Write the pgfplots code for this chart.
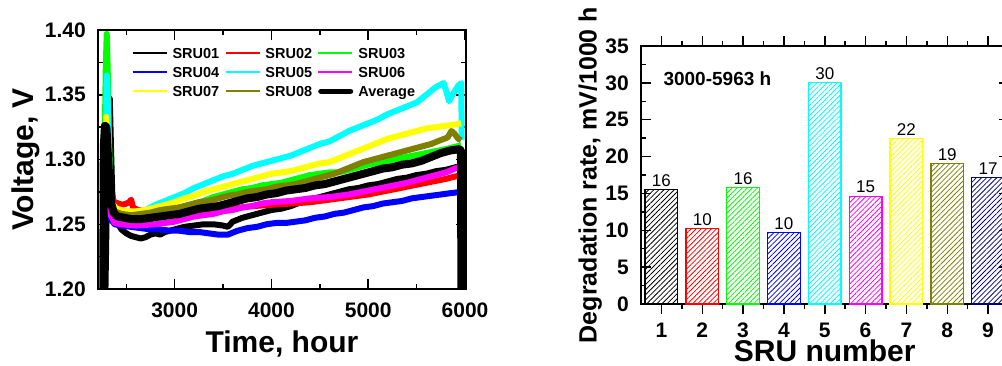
\documentclass[border=0pt]{standalone}
\usepackage{pgfplots}
\pgfplotsset{compat=1.18}
\usepackage{fontspec}
\setmainfont{Liberation Sans}
\usetikzlibrary{patterns.meta}
\definecolor{cgreen}{RGB}{0,255,0}
\definecolor{colive}{RGB}{128,128,0}
\definecolor{cnavy}{RGB}{0,0,128}
\definecolor{ccyan}{RGB}{0,255,255}
\definecolor{cmag}{RGB}{255,0,255}
\definecolor{cyel}{RGB}{255,255,0}
\newcommand\tkfont{\fontsize{21}{21}\selectfont\bfseries}
\newcommand\lbfont{\fontsize{30}{30}\selectfont\bfseries}
\pgfplotsset{
  myaxis/.style={
    scale only axis,
    axis line style={line width=1.8pt},
    tick align=inside,
    major tick length=10pt,
    minor tick length=5pt,
    every tick/.style={black, line width=1.5pt},
    every minor tick/.style={black, line width=1.5pt},
    tick label style={font=\tkfont},
    yticklabel style={inner sep=0pt, xshift=-12pt, anchor=east},
    xticklabel style={inner sep=0pt, yshift=-14pt, anchor=north},
  },
  sru/.style={line width=6pt, line join=round},
}
\begin{document}
\begin{tikzpicture}
\useasboundingbox (0,0) rectangle (1002pt,365pt);
\clip (0,0) rectangle (1002pt,365pt);
% ---------------- left panel ----------------
\begin{axis}[myaxis,
  at={(98pt,76pt)}, anchor=south west,
  width=368pt, height=259pt,
  xmin=2208, xmax=6010, ymin=1.20, ymax=1.40,
  xtick={3000,4000,5000,6000}, xticklabels={3000,4000,5000,6000},
  minor xtick={2500,3500,4500,5500},
  ytick={1.20,1.25,1.30,1.35,1.40}, yticklabels={1.20,1.25,1.30,1.35,1.40},
  minor ytick={1.225,1.275,1.325,1.375},
  xlabel={Time, hour}, ylabel={Voltage, V},
  xlabel style={font=\lbfont, at={(axis description cs:0.5,-0.246)}, anchor=base},
  ylabel style={font=\lbfont, at={(axis description cs:-0.176,0.5)}, anchor=base},
  legend columns=3, legend cell align=left,
  legend style={at={(0.0916,0.9305)}, anchor=north west, draw=none, fill=none,
    inner sep=0pt, outer sep=0pt, font=\fontsize{14.5}{14.5}\selectfont\bfseries,
    nodes={inner sep=0pt, text height=10.5pt, text depth=0pt},
    row sep=8.5pt, column sep=0pt,
    /tikz/every odd column/.append style={column sep=5pt},
    /tikz/every even column/.append style={column sep=5.4pt}},
  legend image code/.code={\draw[#1, line width=1.8pt, line cap=butt] (0pt,0pt) -- (34pt,0pt);},
]
\addplot[sru, black] coordinates {(2285,1.20) (2300,1.27) (2315,1.32) (2330,1.347) (2342,1.31) (2355,1.275) (2375,1.258) (2400,1.252) (2450,1.246) (2500,1.243) (2550,1.241) (2600,1.240) (2650,1.239) (2700,1.240) (2750,1.242) (2800,1.243) (2850,1.242) (2900,1.244) (2950,1.245) (3000,1.246) (3100,1.248) (3200,1.249) (3300,1.250) (3400,1.250) (3500,1.249) (3550,1.248) (3600,1.252) (3700,1.255) (3800,1.257) (3900,1.259) (4000,1.261) (4100,1.262) (4200,1.264) (4300,1.267) (4400,1.269) (4500,1.271) (4600,1.273) (4700,1.275) (4800,1.277) (4900,1.278) (5000,1.280) (5100,1.281) (5200,1.283) (5300,1.285) (5400,1.286) (5500,1.288) (5600,1.289) (5700,1.291) (5800,1.292) (5900,1.294) (5960,1.295)};
\addlegendentry{SRU01}
\addplot[sru, red] coordinates {(2290,1.29) (2320,1.283) (2345,1.272) (2380,1.267) (2420,1.266) (2460,1.265) (2500,1.266) (2530,1.267) (2550,1.269) (2570,1.263) (2620,1.261) (2700,1.260) (2800,1.259) (2900,1.258) (3000,1.258) (3200,1.259) (3400,1.260) (3600,1.262) (3800,1.264) (4000,1.265) (4200,1.266) (4400,1.267) (4600,1.269) (4800,1.271) (5000,1.273) (5200,1.276) (5400,1.279) (5600,1.282) (5800,1.285) (5960,1.288)};
\addlegendentry{SRU02}
\addplot[sru, cgreen] coordinates {(2260,1.22) (2275,1.30) (2288,1.37) (2298,1.397) (2308,1.37) (2320,1.32) (2335,1.28) (2355,1.258) (2390,1.252) (2450,1.250) (2550,1.249) (2650,1.251) (2750,1.254) (2850,1.257) (2950,1.260) (3000,1.262) (3100,1.264) (3200,1.266) (3300,1.268) (3400,1.271) (3500,1.273) (3600,1.275) (3700,1.277) (3800,1.278) (3900,1.280) (4000,1.281) (4100,1.282) (4200,1.284) (4300,1.286) (4400,1.288) (4500,1.289) (4600,1.290) (4700,1.290) (4800,1.292) (4900,1.294) (5000,1.296) (5200,1.299) (5400,1.302) (5600,1.305) (5800,1.308) (5960,1.311)};
\addlegendentry{SRU03}
\addplot[sru, blue] coordinates {(2285,1.275) (2310,1.262) (2340,1.254) (2380,1.250) (2450,1.249) (2550,1.248) (2650,1.247) (2750,1.246) (2850,1.246) (2950,1.245) (3050,1.245) (3150,1.244) (3250,1.244) (3350,1.243) (3450,1.242) (3550,1.242) (3650,1.245) (3750,1.247) (3850,1.248) (3950,1.250) (4050,1.251) (4150,1.251) (4250,1.252) (4350,1.253) (4450,1.255) (4550,1.256) (4650,1.258) (4750,1.259) (4850,1.261) (4950,1.263) (5050,1.264) (5150,1.266) (5250,1.267) (5350,1.268) (5450,1.270) (5550,1.271) (5650,1.272) (5750,1.273) (5850,1.274) (5960,1.275)};
\addlegendentry{SRU04}
\addplot[sru, ccyan] coordinates {(2280,1.27) (2292,1.33) (2300,1.365) (2310,1.34) (2322,1.30) (2340,1.27) (2370,1.258) (2450,1.255) (2550,1.255) (2650,1.258) (2725,1.262) (2800,1.265) (2900,1.268) (3000,1.271) (3100,1.274) (3200,1.278) (3300,1.281) (3400,1.284) (3500,1.287) (3600,1.289) (3700,1.292) (3800,1.295) (3900,1.297) (4000,1.299) (4100,1.301) (4200,1.303) (4300,1.306) (4400,1.309) (4500,1.312) (4600,1.314) (4700,1.318) (4800,1.322) (4900,1.325) (5000,1.328) (5100,1.331) (5200,1.335) (5300,1.338) (5400,1.341) (5500,1.344) (5600,1.350) (5700,1.356) (5780,1.359) (5810,1.352) (5835,1.345) (5870,1.350) (5930,1.357) (5962,1.359) (5965,1.315)};
\addlegendentry{SRU05}
\addplot[sru, cmag] coordinates {(2290,1.28) (2315,1.265) (2340,1.257) (2380,1.251) (2450,1.250) (2600,1.249) (2800,1.250) (3000,1.252) (3100,1.254) (3200,1.256) (3300,1.257) (3400,1.258) (3500,1.260) (3600,1.261) (3700,1.263) (3800,1.264) (3900,1.266) (4000,1.267) (4200,1.268) (4400,1.270) (4600,1.271) (4800,1.273) (5000,1.276) (5200,1.279) (5400,1.282) (5600,1.286) (5800,1.290) (5960,1.295)};
\addlegendentry{SRU06}
\addplot[sru, cyel] coordinates {(2280,1.30) (2292,1.333) (2305,1.31) (2325,1.28) (2350,1.266) (2400,1.262) (2500,1.260) (2600,1.260) (2700,1.261) (2800,1.263) (2900,1.265) (3000,1.267) (3100,1.270) (3200,1.272) (3300,1.275) (3400,1.277) (3500,1.279) (3600,1.281) (3700,1.283) (3800,1.285) (3900,1.287) (4000,1.289) (4100,1.290) (4200,1.291) (4300,1.293) (4400,1.295) (4500,1.297) (4600,1.298) (4700,1.301) (4800,1.304) (4900,1.307) (5000,1.310) (5100,1.313) (5200,1.316) (5300,1.318) (5400,1.320) (5500,1.322) (5600,1.324) (5700,1.325) (5800,1.326) (5900,1.327) (5960,1.328)};
\addlegendentry{SRU07}
\addplot[sru, colive] coordinates {(2290,1.29) (2315,1.275) (2340,1.265) (2380,1.260) (2450,1.258) (2550,1.257) (2650,1.258) (2750,1.259) (2850,1.261) (2950,1.262) (3050,1.263) (3150,1.265) (3250,1.267) (3350,1.268) (3450,1.270) (3550,1.272) (3650,1.273) (3750,1.275) (3850,1.276) (3950,1.277) (4050,1.279) (4150,1.280) (4250,1.281) (4350,1.283) (4450,1.285) (4550,1.287) (4650,1.289) (4750,1.292) (4850,1.295) (4950,1.298) (5050,1.300) (5150,1.302) (5250,1.304) (5350,1.306) (5450,1.308) (5550,1.310) (5650,1.312) (5750,1.315) (5820,1.317) (5860,1.322) (5890,1.320) (5930,1.316) (5960,1.315)};
\addlegendentry{SRU08}
\addplot[black, line width=8pt, line join=round,
  legend image code/.code={\draw[black, line width=5.5pt, line cap=round] (2.5pt,0pt) -- (32pt,0pt);}]
  coordinates {(2262,1.19) (2268,1.31) (2280,1.326) (2295,1.325) (2305,1.31) (2325,1.285) (2345,1.266) (2370,1.259) (2410,1.256) (2480,1.255) (2550,1.254) (2650,1.254) (2750,1.255) (2850,1.256) (2950,1.257) (3050,1.258) (3150,1.260) (3250,1.262) (3350,1.263) (3450,1.264) (3550,1.266) (3650,1.268) (3750,1.270) (3850,1.271) (3950,1.273) (4050,1.274) (4150,1.276) (4250,1.277) (4350,1.278) (4450,1.280) (4550,1.281) (4650,1.283) (4750,1.285) (4850,1.287) (4950,1.289) (5050,1.291) (5150,1.293) (5250,1.294) (5350,1.296) (5450,1.297) (5550,1.299) (5650,1.302) (5750,1.305) (5850,1.307) (5940,1.308) (5958,1.307) (5963,1.19)};
\addlegendentry{Average}
\end{axis}
% ---------------- right panel ----------------
\begin{axis}[myaxis,
  at={(641pt,61pt)}, anchor=south west,
  width=367.5pt, height=258pt,
  xmin=0.5, xmax=9.5, ymin=0, ymax=35,
  xtick={1,...,9}, xticklabels={1,2,3,4,5,6,7,8,9},
  xticklabel style={yshift=5pt},
  minor xtick={1.5,2.5,3.5,4.5,5.5,6.5,7.5,8.5},
  ytick={0,5,...,35}, yticklabels={0,5,10,15,20,25,30,35},
  minor ytick={2.5,7.5,...,32.5},
  xlabel={SRU number}, ylabel={Degradation rate, mV/1000 h},
  xlabel style={font=\lbfont, at={(axis description cs:0.5,-0.222)}, anchor=base},
  ylabel style={font=\fontsize{25}{25}\selectfont\bfseries, at={(axis description cs:-0.1207,0.5)}, anchor=base},
  ybar, bar width=0.8, bar shift=0pt,
  nodes near coords, point meta=explicit symbolic,
  every node near coord/.append style={font=\fontsize{17}{17}\selectfont, black, anchor=south, inner sep=0pt, yshift=2.7pt},
]
\addplot[draw=black, line width=1.2pt, pattern={Lines[angle=45,distance=3.6pt,line width=0.8pt]}, pattern color=black] coordinates {(1,15.5) [16]};
\addplot[draw=red, line width=1.2pt, pattern={Lines[angle=45,distance=3.6pt,line width=0.8pt]}, pattern color=red] coordinates {(2,10.2) [10]};
\addplot[draw=cgreen, line width=1.2pt, pattern={Lines[angle=45,distance=3.6pt,line width=0.8pt]}, pattern color=cgreen] coordinates {(3,15.8) [16]};
\addplot[draw=blue, line width=1.2pt, pattern={Lines[angle=45,distance=3.6pt,line width=0.8pt]}, pattern color=blue] coordinates {(4,9.67) [10]};
\addplot[draw=ccyan, line width=1.2pt, pattern={Lines[angle=45,distance=3.6pt,line width=0.8pt]}, pattern color=ccyan] coordinates {(5,30.0) [30]};
\addplot[draw=cmag, line width=1.2pt, pattern={Lines[angle=45,distance=3.6pt,line width=0.8pt]}, pattern color=cmag] coordinates {(6,14.63) [15]};
\addplot[draw=cyel, line width=1.2pt, pattern={Lines[angle=45,distance=3.6pt,line width=0.8pt]}, pattern color=cyel] coordinates {(7,22.45) [22]};
\addplot[draw=colive, line width=1.2pt, pattern={Lines[angle=45,distance=3.6pt,line width=0.8pt]}, pattern color=colive] coordinates {(8,19.06) [19]};
\addplot[draw=cnavy, line width=1.2pt, pattern={Lines[angle=45,distance=3.6pt,line width=0.8pt]}, pattern color=cnavy] coordinates {(9,17.16) [17]};
\node[anchor=west, inner sep=0pt, font=\fontsize{19}{19}\selectfont\bfseries] at (axis description cs:0.0608,0.875) {3000-5963 h};
\end{axis}
\end{tikzpicture}
\end{document}
